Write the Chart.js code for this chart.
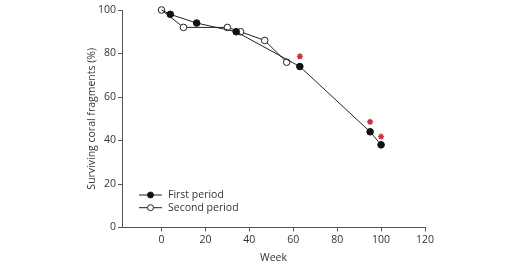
<!DOCTYPE html>
<html>
<head>
<meta charset="utf-8">
<script src="https://cdn.jsdelivr.net/npm/chart.js@4.4.0/dist/chart.umd.min.js"></script>
<style>
html,body{margin:0;padding:0;background:#fff;}
#wrap{width:528px;height:269px;}
</style>
</head>
<body>
<div id="wrap"><canvas id="c" width="528" height="269"></canvas></div>
<script>
const firstWeeks = [0, 4, 16, 34, 63, 95, 100];
const firstValues = [100, 98, 94, 90, 74, 44, 38];
const secondWeeks = [0, 10, 30, 36, 47, 57];
const secondValues = [100, 92, 92, 90, 86, 76];
const starWeeks = [63, 95, 100];
const starValues = [78.7, 48.6, 41.8];
const xTicks = [0, 20, 40, 60, 80, 100, 120];
const yTicks = [0, 20, 40, 60, 80, 100];
const seriesNames = ['First period', 'Second period'];

const FONT = "'Open Sans', sans-serif";
const AX = '#555';
const TXT = '#333';

function pts(xs, ys){ return xs.map((x,i)=>({x:x, y:ys[i]})); }

const legendPlugin = {
  id: 'lineLegend',
  afterDraw(chart){
    const ctx = chart.ctx;
    const items = [
      {label: seriesNames[0], fill: '#111'},
      {label: seriesNames[1], fill: '#fff'}
    ];
    ctx.save();
    ctx.font = "10.5px " + FONT;
    ctx.textBaseline = 'middle';
    items.forEach((it, i) => {
      const y = 195 + i * 12.7;
      ctx.strokeStyle = '#222';
      ctx.lineWidth = 1;
      ctx.beginPath(); ctx.moveTo(139, y); ctx.lineTo(162, y); ctx.stroke();
      ctx.beginPath(); ctx.arc(150.5, y, 3, 0, Math.PI*2);
      ctx.fillStyle = it.fill; ctx.fill(); ctx.stroke();
      ctx.fillStyle = TXT;
      ctx.fillText(it.label, 168, y);
    });
    ctx.restore();
  }
};

new Chart(document.getElementById('c'), {
  type: 'scatter',
  data: {
    datasets: [
      {
        label: seriesNames[0],
        data: pts(firstWeeks, firstValues),
        showLine: true, clip: false,
        borderColor: '#222', borderWidth: 1,
        pointBackgroundColor: '#111', pointBorderColor: '#111',
        pointBorderWidth: 1, pointRadius: firstWeeks.map((w,i)=> i===0 ? 0 : 3.3), order: 2
      },
      {
        label: seriesNames[1],
        data: pts(secondWeeks, secondValues),
        showLine: true, clip: false,
        borderColor: '#222', borderWidth: 1,
        pointBackgroundColor: '#fff', pointBorderColor: '#222',
        pointBorderWidth: 1, pointRadius: 3.3, order: 3
      },
      {
        label: 'sig',
        data: pts(starWeeks, starValues),
        showLine: false, clip: false,
        pointStyle: 'star', pointRadius: 3,
        borderColor: '#c8323c', backgroundColor: '#c8323c',
        pointBorderWidth: 1.4, order: 0
      }
    ]
  },
  options: {
    responsive: false,
    animation: false,
    devicePixelRatio: 1,
    layout: {padding: {left: 84, right: 103, top: 10, bottom: 0}},
    plugins: {legend: {display: false}, tooltip: {enabled: false}},
    scales: {
      x: {
        type: 'linear', min: -18, max: 120,
        afterBuildTicks(s){ s.ticks = xTicks.map(v=>({value:v})); },
        afterFit(s){ s.height = 41.5; },
        grid: {drawOnChartArea: false, drawTicks: true, tickLength: 4, color: AX},
        border: {color: AX, width: 1},
        ticks: {color: TXT, font: {family: FONT, size: 10.5}, padding: 2, maxRotation: 0},
        title: {display: true, text: 'Week', color: TXT, font: {family: FONT, size: 10.5}, padding: {top: 0, bottom: 5}}
      },
      y: {
        type: 'linear', min: 0, max: 100,
        afterBuildTicks(s){ s.ticks = yTicks.map(v=>({value:v})); },
        afterFit(s){ s.width = 38; },
        grid: {drawOnChartArea: false, drawTicks: true, tickLength: 4, color: AX},
        border: {color: AX, width: 1},
        ticks: {color: TXT, font: {family: FONT, size: 10.5}, padding: 2},
        title: {display: true, text: 'Surviving coral fragments (%)', color: TXT, font: {family: FONT, size: 10.5}, padding: {top: 2, bottom: 0}}
      }
    }
  },
  plugins: [legendPlugin]
});
</script>
</body>
</html>
